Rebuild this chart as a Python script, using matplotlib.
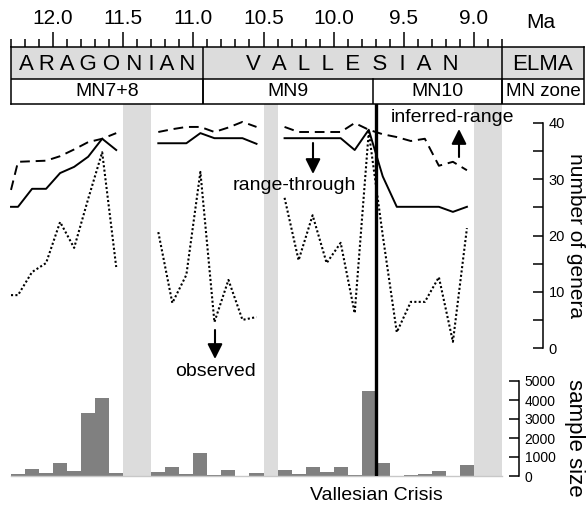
import numpy as np
import matplotlib
matplotlib.use("Agg")
from matplotlib import pyplot as plt
from matplotlib.patches import Rectangle

plt.rcParams['font.family'] = ['Liberation Sans', 'DejaVu Sans']

# ---- data (Ma, bin centres) ----
ma_seg1 = [12.3, 12.25, 12.15, 12.05, 11.95, 11.85, 11.75, 11.65, 11.55]
inferred_seg1 = [28.1, 33.1, 33.2, 33.3, 34.1, 35.3, 36.6, 37.2, 38.2]
range_seg1 = [25.1, 25.1, 28.3, 28.3, 31.1, 32.2, 34.0, 37.2, 35.2]
observed_seg1 = [9.4, 9.4, 13.5, 15.1, 22.4, 17.8, 26.5, 34.8, 14.4]

ma_seg2 = [11.25, 11.15, 11.05, 10.95, 10.85, 10.75, 10.65, 10.55]
inferred_seg2 = [38.4, 38.9, 39.3, 39.3, 38.4, 39.2, 40.2, 39.3]
range_seg2 = [36.4, 36.4, 36.4, 38.2, 37.3, 37.3, 37.3, 36.3]
observed_seg2 = [20.6, 8.0, 13.0, 31.3, 4.6, 12.1, 5.0, 5.5]

ma_seg3 = [10.35, 10.25, 10.15, 10.05, 9.95, 9.85, 9.75, 9.65, 9.55, 9.45, 9.35, 9.25, 9.15, 9.05]
inferred_seg3 = [39.3, 38.4, 38.4, 38.4, 38.4, 40.0, 38.8, 38.0, 37.5, 36.8, 37.2, 32.4, 33.1, 31.6]
range_seg3 = [37.3, 37.3, 37.3, 37.3, 37.3, 35.2, 38.8, 30.5, 25.1, 25.1, 25.1, 25.1, 24.2, 25.1]
observed_seg3 = [26.7, 15.6, 23.6, 15.1, 18.7, 6.2, 38.4, 20.0, 2.8, 8.2, 8.2, 12.6, 1.1, 21.3]

bins1 = [12.25, 12.15, 12.05, 11.95, 11.85, 11.75, 11.65, 11.55]
samples1 = [100, 350, 180, 700, 280, 3300, 4100, 150]
samples2 = [220, 500, 100, 1200, 40, 290, 10, 180]
samples3 = [290, 80, 480, 200, 500, 30, 4450, 700, 10, 50, 100, 240, 0, 580]

gaps = [(11.5, 11.3), (10.5, 10.4), (9.0, 8.8)]
crisis = 9.7
stages = [("A R A G O N I A N", 12.3, 10.93), ("V  A  L  L  E  S  I  A  N", 10.93, 8.8)]
zones = [("MN7+8", 12.3, 10.93), ("MN9", 10.93, 9.72), ("MN10", 9.72, 8.8)]

W, H = 586, 508
fig = plt.figure(figsize=(W / 100, H / 100), dpi=100)


def add_px_axes(x0, y0, x1, y1):
    # pixel box measured from the top-left corner
    return fig.add_axes([x0 / W, 1 - y1 / H, (x1 - x0) / W, (y1 - y0) / H])


def ftext(x, y, s, **kw):
    # text at a pixel position measured from the top-left corner
    fig.text(x / W, 1 - y / H, s, ha='center', va='center', **kw)


X0, X1 = 11, 502
MA_L, MA_R = 12.3, 8.8

# background: grey gaps
ax_bg = add_px_axes(X0, 104, X1, 476)
ax_bg.set_xlim(MA_L, MA_R)
ax_bg.set_ylim(0, 1)
ax_bg.axis('off')
for a, b in gaps:
    ax_bg.axvspan(a, b, color='#dcdcdc', lw=0)

# genera lines
ax_gen = add_px_axes(X0, 123, X1, 348)
ax_gen.set_xlim(MA_L, MA_R)
ax_gen.set_ylim(0, 40)
ax_gen.patch.set_alpha(0)
for ma, inf, rt, obs in [(ma_seg1, inferred_seg1, range_seg1, observed_seg1),
                         (ma_seg2, inferred_seg2, range_seg2, observed_seg2),
                         (ma_seg3, inferred_seg3, range_seg3, observed_seg3)]:
    ax_gen.plot(ma, inf, color='black', lw=1.4, ls=(0, (5, 3)), clip_on=False)
    ax_gen.plot(ma, rt, color='black', lw=1.4, clip_on=False)
    ax_gen.plot(ma, obs, color='black', lw=1.5, ls=(0, (1, 1.1)), clip_on=False)
for s in ['top', 'left', 'bottom']:
    ax_gen.spines[s].set_visible(False)
ax_gen.spines['right'].set_position(('axes', (543 - X0) / (X1 - X0)))
ax_gen.spines['right'].set_linewidth(1.1)
ax_gen.yaxis.tick_right()
ax_gen.set_xticks([])
ax_gen.set_yticks([0, 10, 20, 30, 40])
ax_gen.set_yticks([5, 15, 25, 35], minor=True)
ax_gen.tick_params(axis='y', which='both', direction='in', length=7, width=1.1,
                   labelsize=10.5, pad=4)
ftext(575, 235, "number of genera", fontsize=15, rotation=-90)

# sample size bars
ax_bar = add_px_axes(X0, 381, X1, 476)
ax_bar.set_xlim(MA_L, MA_R)
ax_bar.set_ylim(0, 5000)
ax_bar.patch.set_alpha(0)
ax_bar.plot([MA_L, MA_R], [0, 0], color='#c8c8c8', lw=1, clip_on=False)
for bins, vals in [(bins1, samples1), (ma_seg2, samples2), (ma_seg3, samples3)]:
    ax_bar.bar(bins, vals, width=0.1, color='#808080', lw=0)
for s in ['top', 'left', 'bottom']:
    ax_bar.spines[s].set_visible(False)
ax_bar.spines['right'].set_position(('axes', (519 - X0) / (X1 - X0)))
ax_bar.spines['right'].set_linewidth(1.1)
ax_bar.yaxis.tick_right()
ax_bar.set_xticks([])
ax_bar.set_yticks(np.arange(0, 5001, 1000))
ax_bar.tick_params(axis='y', direction='in', length=7, width=1.1, labelsize=10, pad=4)
ftext(575, 438, "sample size", fontsize=16, rotation=-90)

# crisis line on top of everything in the data area
ax_top = add_px_axes(X0, 104, X1, 476)
ax_top.set_xlim(MA_L, MA_R)
ax_top.set_ylim(0, 1)
ax_top.axis('off')
ax_top.axvline(crisis, color='black', lw=2.4)

# stage / zone boxes with the time scale on top
ax_box = add_px_axes(X0, 47, 584, 104)
ax_box.set_xlim(MA_L, MA_L - (584 - X0) / ((X1 - X0) / (MA_L - MA_R)))
ax_box.set_ylim(104, 47)
ax_box.add_patch(Rectangle((MA_L, 47), -10, 32, color='#dcdcdc', lw=0))
ax_box.axhline(79, color='black', lw=1.1)
for name, a, b in stages:
    ax_box.plot([b, b], [47, 104], color='black', lw=1.1)
    ax_box.text((a + b) / 2, 64, name, ha='center', va='center', fontsize=16)
for name, a, b in zones:
    ax_box.plot([b, b], [79, 104], color='black', lw=1.1)
    ax_box.text((a + b) / 2, 92, name, ha='center', va='center', fontsize=14)
elma_mid = (MA_R + ax_box.get_xlim()[1]) / 2
ax_box.text(elma_mid, 64, "ELMA", ha='center', va='center', fontsize=16)
ax_box.text(elma_mid, 92, "MN zone", ha='center', va='center', fontsize=13.5)
for s in ax_box.spines.values():
    s.set_linewidth(1.1)
ax_box.set_yticks([])
ax_box.xaxis.tick_top()
ax_box.set_xticks([12.0, 11.5, 11.0, 10.5, 10.0, 9.5, 9.0])
ax_box.set_xticklabels(["12.0", "11.5", "11.0", "10.5", "10.0", "9.5", "9.0"])
ax_box.set_xticks(np.round(np.arange(8.8, 12.31, 0.1), 1), minor=True)
ax_box.tick_params(axis='x', which='major', direction='out', length=11, width=1.1,
                   labelsize=15, pad=3)
ax_box.tick_params(axis='x', which='minor', direction='out', length=6, width=1.1)
ftext(541, 22, "Ma", fontsize=15)

# annotations (figure pixels, y from top)
arrow = dict(arrowstyle='-|>,head_length=0.5,head_width=0.25', color='black',
             lw=1.5, mutation_scale=18, shrinkA=0, shrinkB=0)


def fp(x, y):
    return (x, H - y)


for tip, tail in [((313, 174), (313, 143)), ((215, 359), (215, 330)),
                  ((459, 129), (459, 157))]:
    fig.add_artist(plt.Annotation("", xy=fp(*tip), xytext=fp(*tail),
                                  xycoords='figure pixels', arrowprops=arrow))
ftext(294, 186, "range-through", fontsize=14)
ftext(216, 371, "observed", fontsize=14)
ftext(452, 117, "inferred-range", fontsize=14)
ftext(376, 496, "Vallesian Crisis", fontsize=14)

fig.savefig("out.png", dpi=100)
